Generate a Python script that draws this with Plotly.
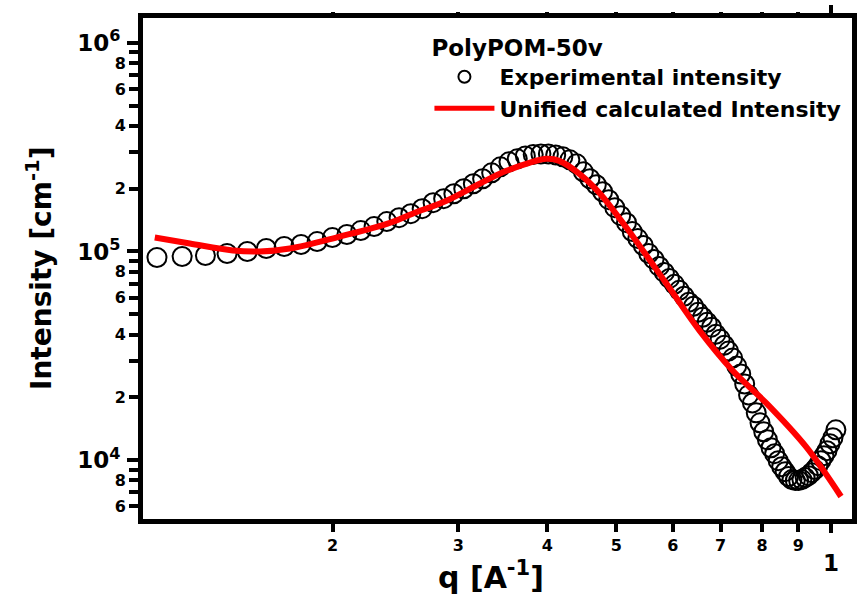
import plotly.graph_objects as go

# ---- Data ----
q_exp = [0.1134, 0.1230, 0.1326, 0.1422, 0.1518, 0.1614, 0.1710, 0.1806, 0.1902, 0.1998,
         0.2094, 0.2190, 0.2286, 0.2382, 0.2478, 0.2574, 0.2670, 0.2766, 0.2862, 0.2958,
         0.3054, 0.3150, 0.3246, 0.3342, 0.3438, 0.3534, 0.3630, 0.3726, 0.3822, 0.3918,
         0.4014, 0.4110, 0.4206, 0.4302, 0.4398, 0.4494, 0.4590, 0.4686, 0.4782, 0.4878,
         0.4974, 0.5070, 0.5166, 0.5262, 0.5358, 0.5454, 0.5550, 0.5646, 0.5742, 0.5838,
         0.5934, 0.6030, 0.6126, 0.6222, 0.6318, 0.6414, 0.6510, 0.6606, 0.6702, 0.6798,
         0.6894, 0.6990, 0.7086, 0.7182, 0.7278, 0.7374, 0.7470, 0.7566, 0.7662, 0.7758,
         0.7854, 0.7950, 0.8046, 0.8142, 0.8238, 0.8334, 0.8430, 0.8526, 0.8622, 0.8718,
         0.8814, 0.8910, 0.9006, 0.9102, 0.9198, 0.9294, 0.9390, 0.9486, 0.9582, 0.9678,
         0.9774, 0.9870, 0.9966, 1.0062, 1.0158]
I_exp = [93600, 94650, 95700, 97800, 100000, 103350, 105650, 108000, 111600, 116600,
         120600, 126000, 131600, 139100, 145300, 151800, 160400, 171400, 179100, 189200,
         199800, 211200, 223100, 238300, 254500, 268900, 277900, 287200, 292000, 293600,
         293600, 290400, 284100, 274900, 263000, 240900, 223100, 208800, 193400, 177100,
         162200, 148500, 137500, 124600, 115300, 106800, 97800, 91600, 84800, 79400,
         74300, 69600, 65150, 61000, 57100, 54640, 51150, 48420, 45820, 43370,
         40170, 38020, 35580, 33310, 30850, 28250, 25870, 23180, 20550, 18810,
         16850, 15100, 13680, 12530, 11470, 10740, 9945, 9310, 8810, 8340,
         8070, 7980, 7980, 8070, 8250, 8430, 8710, 9010, 9410, 9945,
         10510, 11100, 11990, 12800, 13980]

q_fit = [0.1126, 0.1261, 0.1449, 0.1580, 0.1741, 0.2046, 0.2388, 0.2589, 0.2888, 0.3214,
         0.3504, 0.3774, 0.3989, 0.4158, 0.4436, 0.4730, 0.5163, 0.5872, 0.6532, 0.7265,
         0.8108, 0.9223, 1.0327]
I_fit = [116600, 109200, 101100, 100000, 103350, 117900, 136000, 151800, 175200, 211200,
         243500, 266000, 277900, 271900, 235700, 191300, 130200, 70360, 41970, 27040,
         18810, 11600, 6695]

x_minor_vals = [0.2, 0.3, 0.4, 0.5, 0.6, 0.7, 0.8, 0.9]
x_minor_text = ["2", "3", "4", "5", "6", "7", "8", "9"]
x_major_vals = [1.0]
x_major_text = ["1"]

y_lab_vals = [6e3, 8e3, 2e4, 4e4, 6e4, 8e4, 2e5, 4e5, 6e5, 8e5]
y_lab_text = ["6", "8", "2", "4", "6", "8", "2", "4", "6", "8"]
y_unlab_vals = [7e3, 9e3, 3e4, 5e4, 7e4, 9e4, 3e5, 5e5, 7e5, 9e5]
y_major_vals = [1e4, 1e5, 1e6]
y_major_text = ["10<sup>4</sup>", "10<sup>5</sup>", "10<sup>6</sup>"]

legend_title = "PolyPOM-50v"
name_exp = "Experimental intensity"
name_fit = "Unified calculated Intensity"

# ---- Figure ----
FONT = "DejaVu Sans, Liberation Sans, Arial, sans-serif"
xr = [-0.965, 0.0294]
yr = [3.718, 6.119]

fig = go.Figure()
fig.add_trace(go.Scatter(
    x=q_exp, y=I_exp, mode="markers", name=name_exp,
    marker=dict(symbol="circle-open", size=19, color="black", line=dict(width=2, color="black")),
))
fig.add_trace(go.Scatter(
    x=q_fit, y=I_fit, mode="lines", name=name_fit,
    line=dict(color="#ff0000", width=6, shape="spline", smoothing=1.0),
))
# invisible helper traces so the overlaid tick-only axes get drawn
fig.add_trace(go.Scatter(x=q_exp[:1], y=I_exp[:1], xaxis="x2", yaxis="y2", mode="markers",
                         marker=dict(opacity=0), showlegend=False, hoverinfo="skip"))
fig.add_trace(go.Scatter(x=q_exp[:1], y=I_exp[:1], xaxis="x3", yaxis="y3", mode="markers",
                         marker=dict(opacity=0), showlegend=False, hoverinfo="skip"))

tickfont_small = dict(family=FONT, size=16, color="black", weight="bold")
tickfont_big = dict(family=FONT, size=23, color="black", weight="bold")

fig.update_layout(
    width=857, height=603,
    margin=dict(l=143, r=5, t=18, b=84, autoexpand=False),
    paper_bgcolor="white", plot_bgcolor="white",
    showlegend=True,
    legend=dict(
        x=0.404, y=0.984, xanchor="left", yanchor="top",
        bgcolor="rgba(0,0,0,0)", borderwidth=0,
        font=dict(family=FONT, size=22, color="black", weight="bold"),
        title=dict(text=legend_title, font=dict(family=FONT, size=23, color="black", weight="bold")),
        itemsizing="constant", itemwidth=60, tracegroupgap=0,
    ),
    xaxis=dict(
        type="log", range=xr, showgrid=False, zeroline=False,
        showline=True, linewidth=5, linecolor="black", mirror=True,
        tickmode="array", tickvals=x_minor_vals, ticktext=x_minor_text,
        ticks="outside", ticklen=8, tickwidth=4, tickcolor="black",
        tickfont=tickfont_small,
    ),
    xaxis2=dict(
        type="log", range=xr, overlaying="x", anchor="y", side="bottom",
        showgrid=False, zeroline=False, showline=False,
        tickmode="array", tickvals=x_major_vals, ticktext=x_major_text,
        ticks="outside", ticklen=13, tickwidth=4, tickcolor="black",
        tickfont=tickfont_big, ticklabelstandoff=10,
    ),
    xaxis3=dict(
        type="log", range=xr, overlaying="x", anchor="y", side="top",
        showgrid=False, zeroline=False, showline=False, showticklabels=False,
        tickmode="array", tickvals=x_major_vals,
        ticks="outside", ticklen=12, tickwidth=4, tickcolor="black",
        minor=dict(tickmode="array", tickvals=x_minor_vals, ticks="outside",
                   ticklen=5, tickwidth=4, tickcolor="black", showgrid=False),
    ),
    yaxis=dict(
        type="log", range=yr, showgrid=False, zeroline=False,
        showline=True, linewidth=5, linecolor="black", mirror=True,
        tickmode="array", tickvals=y_lab_vals, ticktext=y_lab_text,
        ticks="outside", ticklen=9, tickwidth=4, tickcolor="black",
        tickfont=tickfont_small,
        minor=dict(tickmode="array", tickvals=y_unlab_vals, ticks="outside",
                   ticklen=9, tickwidth=4, tickcolor="black", showgrid=False),
    ),
    yaxis2=dict(
        type="log", range=yr, overlaying="y", anchor="x", side="left",
        showgrid=False, zeroline=False, showline=False,
        tickmode="array", tickvals=y_major_vals, ticktext=y_major_text,
        ticks="outside", ticklen=15, tickwidth=4, tickcolor="black",
        tickfont=tickfont_big, ticklabelstandoff=2,
    ),
    yaxis3=dict(
        type="log", range=yr, overlaying="y", anchor="x", side="right",
        showgrid=False, zeroline=False, showline=False, showticklabels=False,
        tickmode="array", tickvals=y_major_vals,
        ticks="outside", ticklen=5, tickwidth=4, tickcolor="black",
    ),
    annotations=[
        dict(text="Intensity [cm<sup>-1</sup>]", textangle=-90, xref="paper", yref="paper",
             x=-0.146, y=0.5, xanchor="center", yanchor="middle", showarrow=False,
             font=dict(family=FONT, size=28, color="black", weight="bold")),
        dict(text="q [A<sup>-1</sup>]", xref="paper", yref="paper",
             x=0.4915, y=-0.113, xanchor="center", yanchor="middle", showarrow=False,
             font=dict(family=FONT, size=30, color="black", weight="bold")),
    ],
)

fig.write_html("out.html", config={"displayModeBar": False},
               post_script="document.body.style.margin='0px';")
